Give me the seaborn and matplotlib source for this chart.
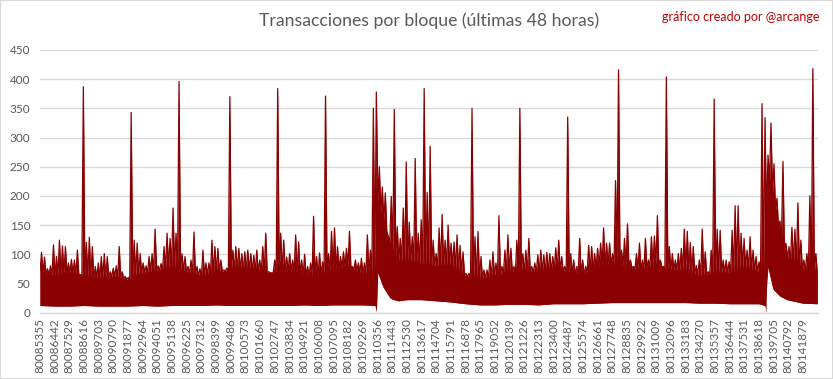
import numpy as np
import pandas as pd
import matplotlib
matplotlib.use("Agg")
import matplotlib.pyplot as plt
from matplotlib.patches import Rectangle
import seaborn as sns

# ---------------- data ----------------
first_block = 80085355
total_blocks = 57600
tick_blocks = list(range(80085355, 80141880, 1087))
y_ticks = [0, 50, 100, 150, 200, 250, 300, 350, 400, 450]

# per-bin maximum transactions per block (bins of equal block width)
peak_tx = [
    103, 95, 75, 80, 116, 96, 124, 114, 113, 85, 91, 90, 107, 65, 387, 120, 129, 113, 79, 85,
    96, 101, 96, 70, 76, 80, 113, 70, 62, 60, 343, 124, 119, 101, 85, 80, 96, 101, 143, 80,
    84, 113, 136, 127, 179,
    136, 396, 101, 96, 79, 90, 138, 79, 75, 107, 85, 85, 124, 113, 110, 90, 73, 76, 370, 107,
    113, 110, 101, 104, 107, 101, 98, 107, 90, 113, 136, 70, 67, 90, 384, 136, 124, 95, 101, 90,
    133, 121, 90, 100,
    79, 85, 165, 96, 102, 87, 371, 101, 139, 145, 113, 96, 104, 110, 139, 79, 90, 85, 93, 85,
    133, 107, 350, 378, 250, 215, 205, 125, 199, 348, 147, 127, 179, 258, 155, 130, 264, 136, 159, 384,
    206, 285, 124,
    101, 145, 168, 124, 150, 119, 121, 133, 115, 104, 67, 67, 350, 130, 139, 96, 73, 73, 90, 104,
    85, 166, 79, 107, 133, 110, 79, 124, 350, 101, 107, 127, 79, 85, 99, 107, 99, 103, 101, 96,
    111, 124, 96,
    79, 335, 101, 90, 79, 127, 90, 79, 115, 113, 101, 110, 119, 145, 119, 119, 101, 226, 416, 107,
    127, 152, 90, 79, 101, 119, 90, 127, 90, 130, 131, 166, 90, 79, 404, 113, 101, 90, 101, 110,
    143, 139, 120, 113,
    81, 90, 143, 104, 70, 107, 366, 143, 141, 90, 90, 87, 141, 183, 183, 136, 127, 107, 130, 107,
    96, 87, 358, 334, 270, 325, 255, 196, 157, 259, 119, 113, 146, 143, 188, 124, 90, 101, 200, 418,
    101,
]

# dense "body" of the series (typical upper and lower level)
body_blocks = [
    80085355, 80086442, 80087529, 80088616, 80089703, 80090790, 80091877, 80092964, 80094051,
    80095138, 80096225, 80097312, 80098399, 80099486, 80100573, 80101660, 80102747, 80103834,
    80104921, 80106008, 80107095, 80108182, 80109269,
    80110200, 80110290, 80110360, 80110770, 80111290, 80111443, 80111900,
    80112530, 80113617, 80114704, 80115791, 80116878, 80117965, 80119052, 80120139, 80121226,
    80122313, 80123400, 80124487, 80125574, 80126661, 80127748, 80128835, 80129922, 80131009,
    80132096, 80133183, 80134270, 80135357, 80136444, 80137531, 80138618,
    80139070, 80139150, 80139225, 80139670, 80140190, 80140708, 80141879, 80142955,
]
body_top = [
    68, 62, 68, 62, 58, 62, 56, 68, 72, 78, 68, 62, 68, 72, 72, 68, 68, 72, 62, 62, 72, 78, 66,
    70, 66, 190, 160, 120, 105, 88,
    88, 82, 78, 82, 62, 56, 62, 68, 68, 68, 72, 68, 62, 78, 82, 78, 72, 82, 72, 72, 62, 68, 68, 78, 68,
    76, 76, 240, 200, 130, 92, 72, 68,
]
body_low = [
    12, 11, 11, 12, 11, 11, 11, 12, 11, 12, 12, 12, 13, 12, 12, 12, 12, 12, 13, 12, 13, 13, 13,
    12, 1, 70, 44, 25, 23, 20,
    22, 22, 20, 18, 15, 13, 13, 14, 14, 13, 15, 15, 15, 16, 17, 17, 17, 17, 17, 17, 16, 16, 15, 15, 15,
    12, 0, 85, 40, 28, 22, 16, 15,
]

# ---------------- style ----------------
sns.set_theme(style="white")
plt.rcParams['font.family'] = ['Lato', 'DejaVu Sans']

RED = '#8B0000'
GRID = '#D9D9D9'
TXT = '#595959'

W, H = 833, 379
fig = plt.figure(figsize=(W / 100, H / 100), dpi=100)
ax = fig.add_axes([40 / W, 1 - 312.5 / H, 778 / W, 262.5 / H])

# zig-zag outline: bin edges sit on the body level, bin centres reach the bin's peak
n = len(peak_tx)
bin_size = total_blocks / n
edges = first_block + np.arange(n + 1) * bin_size
centres = first_block + (np.arange(n) + 0.5) * bin_size
edge_level = np.interp(edges, body_blocks, body_top)
zx = np.empty(2 * n + 1)
zy = np.empty(2 * n + 1)
zx[0::2] = edges
zx[1::2] = centres
zy[0::2] = edge_level
zy[1::2] = np.maximum(peak_tx, np.interp(centres, body_blocks, body_top))
zlow = np.interp(zx, body_blocks, body_low)

ax.fill_between(zx, zlow, zy, color=RED, lw=0, zorder=3)
ax.fill_between(body_blocks, body_low, body_top, color=RED, lw=0, zorder=3)
zig = pd.DataFrame({'block': zx, 'tx': zy})
sns.lineplot(data=zig, x='block', y='tx', sort=False, estimator=None,
             color=RED, lw=0.9, ax=ax, zorder=3)

ax.set_xlim(first_block, first_block + total_blocks + 50)
ax.set_ylim(0, 450)
ax.set_yticks(y_ticks)
ax.set_yticklabels([str(v) for v in y_ticks])
ax.set_xticks(tick_blocks)
ax.set_xticklabels([str(b) for b in tick_blocks], rotation=90)
ax.set_xlabel('')
ax.set_ylabel('')

ax.grid(axis='y', color=GRID, lw=1.0, zorder=0)
ax.grid(axis='x', visible=False)
for s in ['top', 'right', 'left']:
    ax.spines[s].set_visible(False)
ax.spines['bottom'].set_color(GRID)
ax.spines['bottom'].set_linewidth(1.0)
ax.spines['bottom'].set_zorder(4)
ax.tick_params(axis='y', length=0, pad=7, labelsize=8.5, labelcolor=TXT)
ax.tick_params(axis='x', length=0, pad=4, labelsize=8.5, labelcolor=TXT)
ax.set_axisbelow(True)

fig.text(429 / W, 1 - 21 / H, 'Transacciones por bloque (últimas 48 horas)',
         ha='center', va='center', fontsize=12.7, color=TXT)
fig.text(820 / W, 1 - 17 / H, 'gráfico creado por @arcange',
         ha='right', va='center', fontsize=9, color='#C00000')

fig.patches.append(Rectangle((0, 0), 1, 1, transform=fig.transFigure, fill=False,
                             edgecolor=GRID, lw=1.5))

fig.savefig('out.png', dpi=100)
